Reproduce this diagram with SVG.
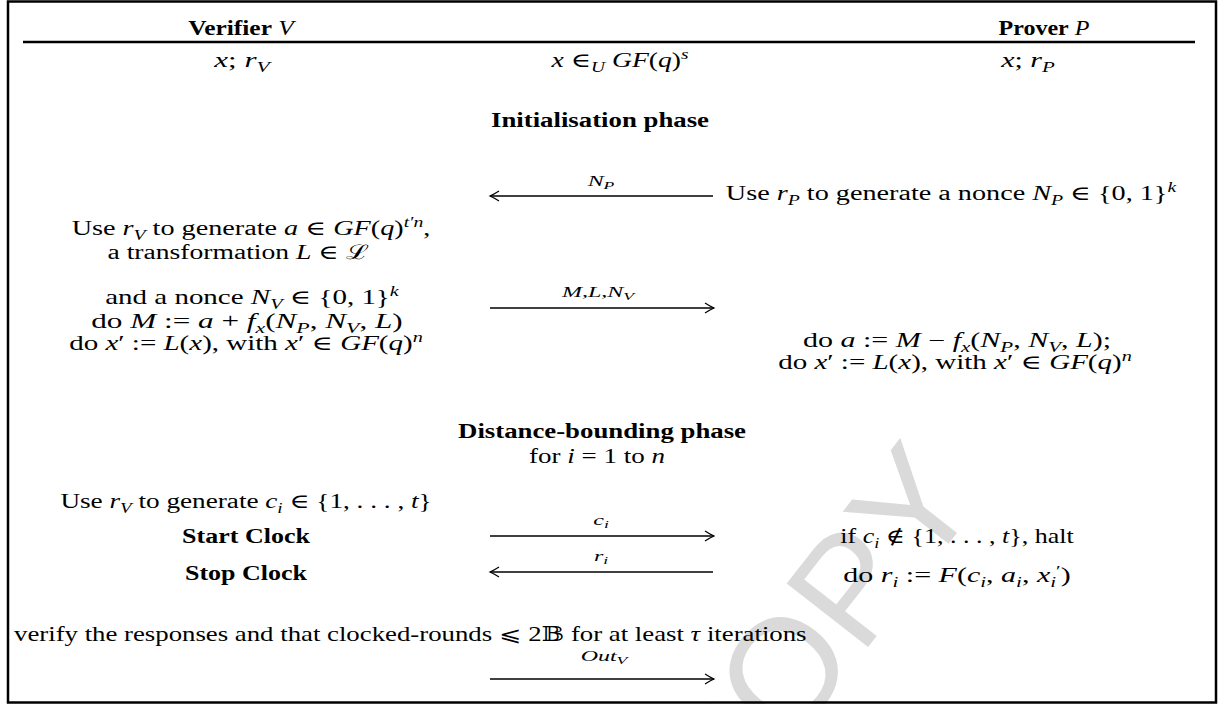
<svg xmlns="http://www.w3.org/2000/svg" width="1219" height="704" viewBox="0 0 1219 704">
<style>
text{font-family:"Liberation Serif","DejaVu Serif",serif;font-size:20px;fill:#000}
.b{font-weight:bold}
.i{font-style:italic}
.s{font-size:14px}
.lb{font-size:15px;font-style:italic}
.ln{font-size:15px}
.ls{font-size:11px;font-style:italic}
.wm{font-family:"Liberation Sans",sans-serif;font-size:150px;fill:#dadada}
.c{stroke:#000;stroke-width:1.3;fill:none}
</style>
<defs>
<marker id="ah" markerUnits="userSpaceOnUse" markerWidth="14" markerHeight="14" viewBox="-12 -7 14 14" refX="0" refY="0" orient="auto">
<path d="M-9,-5 Q-3.5,-1.5 0,0 Q-3.5,1.5 -9,5" fill="none" stroke="#000" stroke-width="1.2"/>
</marker>
</defs>
<rect width="1219" height="704" fill="#fff"/>
<g id="watermark"><text class="wm" transform="translate(722,834) rotate(-52)">COPY</text></g>
<g id="frame">
<rect x="8" y="1.5" width="1208" height="701" fill="none" stroke="#000" stroke-width="2.5"/>
<line x1="23" y1="42" x2="1195" y2="42" stroke="#000" stroke-width="2.5"/>
</g>
<g id="hdr-verifier" transform="translate(241,35) scale(1.27,1)"><text text-anchor="middle"><tspan class="b">Verifier</tspan> <tspan class="i">V</tspan></text></g>
<g id="hdr-prover" transform="translate(1044,35) scale(1.2,1)"><text text-anchor="middle"><tspan class="b">Prover</tspan> <tspan class="i">P</tspan></text></g>
<g id="v-input" transform="translate(242,67) scale(1.55,1)"><text text-anchor="middle"><tspan class="i">x</tspan>; <tspan class="i">r</tspan><tspan class="i s" dy="5">V</tspan></text></g>
<g id="shared-input" transform="translate(620,67) scale(1.38,1)"><text text-anchor="middle"><tspan class="i">x</tspan> ∈<tspan class="i s" dy="5">U</tspan><tspan dy="-5"> </tspan><tspan class="i">GF</tspan>(<tspan class="i">q</tspan>)<tspan class="i s" dy="-8">s</tspan></text></g>
<g id="p-input" transform="translate(1028,67) scale(1.5,1)"><text text-anchor="middle"><tspan class="i">x</tspan>; <tspan class="i">r</tspan><tspan class="i s" dy="5">P</tspan></text></g>
<g id="init-phase" transform="translate(600,127) scale(1.34,1)"><text text-anchor="middle" class="b">Initialisation phase</text></g>
<g id="p-nonce" transform="translate(951,200) scale(1.41,1)"><text text-anchor="middle">Use <tspan class="i">r</tspan><tspan class="i s" dy="5">P</tspan><tspan dy="-5"> to generate a nonce </tspan><tspan class="i">N</tspan><tspan class="i s" dy="5">P</tspan><tspan dy="-5"> ∈ {0, 1}</tspan><tspan class="i s" dy="-8">k</tspan></text></g>
<g id="v-gen" transform="translate(251,235) scale(1.41,1)"><text text-anchor="middle">Use <tspan class="i">r</tspan><tspan class="i s" dy="5">V</tspan><tspan dy="-5"> to generate </tspan><tspan class="i">a</tspan> ∈ <tspan class="i">GF</tspan>(<tspan class="i">q</tspan>)<tspan class="i s" dy="-8">t′n</tspan><tspan dy="8">,</tspan></text></g>
<g id="v-transform" transform="translate(238,259) scale(1.38,1)"><text text-anchor="middle">a transformation <tspan class="i">L</tspan> ∈ ℒ</text></g>
<g id="v-nonce" transform="translate(252,304) scale(1.45,1)"><text text-anchor="middle">and a nonce <tspan class="i">N</tspan><tspan class="i s" dy="5">V</tspan><tspan dy="-5"> ∈ {0, 1}</tspan><tspan class="i s" dy="-8">k</tspan></text></g>
<g id="v-M" transform="translate(247,328) scale(1.56,1)"><text text-anchor="middle">do <tspan class="i">M</tspan> := <tspan class="i">a</tspan> + <tspan class="i">f</tspan><tspan class="i s" dy="5">x</tspan><tspan dy="-5">(</tspan><tspan class="i">N</tspan><tspan class="i s" dy="5">P</tspan><tspan dy="-5">, </tspan><tspan class="i">N</tspan><tspan class="i s" dy="5">V</tspan><tspan dy="-5">, </tspan><tspan class="i">L</tspan>)</text></g>
<g id="v-xprime" transform="translate(246,350) scale(1.45,1)"><text text-anchor="middle">do <tspan class="i">x</tspan>′ := <tspan class="i">L</tspan>(<tspan class="i">x</tspan>), with <tspan class="i">x</tspan>′ ∈ <tspan class="i">GF</tspan>(<tspan class="i">q</tspan>)<tspan class="i s" dy="-8">n</tspan></text></g>
<g id="p-a" transform="translate(957,347) scale(1.5,1)"><text text-anchor="middle">do <tspan class="i">a</tspan> := <tspan class="i">M</tspan> − <tspan class="i">f</tspan><tspan class="i s" dy="5">x</tspan><tspan dy="-5">(</tspan><tspan class="i">N</tspan><tspan class="i s" dy="5">P</tspan><tspan dy="-5">, </tspan><tspan class="i">N</tspan><tspan class="i s" dy="5">V</tspan><tspan dy="-5">, </tspan><tspan class="i">L</tspan>);</text></g>
<g id="p-xprime" transform="translate(955,369) scale(1.45,1)"><text text-anchor="middle">do <tspan class="i">x</tspan>′ := <tspan class="i">L</tspan>(<tspan class="i">x</tspan>), with <tspan class="i">x</tspan>′ ∈ <tspan class="i">GF</tspan>(<tspan class="i">q</tspan>)<tspan class="i s" dy="-8">n</tspan></text></g>
<g id="db-phase" transform="translate(602,438) scale(1.34,1)"><text text-anchor="middle" class="b">Distance-bounding phase</text></g>
<g id="db-loop" transform="translate(597,463) scale(1.35,1)"><text text-anchor="middle">for <tspan class="i">i</tspan> = 1 to <tspan class="i">n</tspan></text></g>
<g id="v-ci" transform="translate(246,508) scale(1.36,1)"><text text-anchor="middle">Use <tspan class="i">r</tspan><tspan class="i s" dy="5">V</tspan><tspan dy="-5"> to generate </tspan><tspan class="i">c</tspan><tspan class="i s" dy="5">i</tspan><tspan dy="-5"> ∈ {1, . . . , </tspan><tspan class="i">t</tspan>}</text></g>
<g id="v-start" transform="translate(246,543) scale(1.3,1)"><text text-anchor="middle" class="b">Start Clock</text></g>
<g id="p-check" transform="translate(957,543) scale(1.3,1)"><text text-anchor="middle">if <tspan class="i">c</tspan><tspan class="i s" dy="5">i</tspan><tspan dy="-5"> ∉ {1, . . . , </tspan><tspan class="i">t</tspan>}, halt</text></g>
<g id="v-stop" transform="translate(246,580) scale(1.3,1)"><text text-anchor="middle" class="b">Stop Clock</text></g>
<g id="p-ri" transform="translate(957,582) scale(1.5,1)"><text text-anchor="middle">do <tspan class="i">r</tspan><tspan class="i s" dy="5">i</tspan><tspan dy="-5"> := </tspan><tspan class="i">F</tspan>(<tspan class="i">c</tspan><tspan class="i s" dy="5">i</tspan><tspan dy="-5">, </tspan><tspan class="i">a</tspan><tspan class="i s" dy="5">i</tspan><tspan dy="-5">, </tspan><tspan class="i">x</tspan><tspan class="i s" dy="5">i</tspan><tspan class="s" dy="-11">′</tspan><tspan dy="6">)</tspan></text></g>
<g id="v-verify" transform="translate(14,641) scale(1.34,1)"><text>verify the responses and that clocked-rounds ⩽ 2𝔹 for at least <tspan class="i">τ</tspan> iterations</text></g>
<g id="connectors">
<line class="c" x1="713" y1="196" x2="490" y2="196" marker-end="url(#ah)"/>
<line class="c" x1="490" y1="308" x2="714" y2="308" marker-end="url(#ah)"/>
<line class="c" x1="490" y1="536" x2="714" y2="536" marker-end="url(#ah)"/>
<line class="c" x1="713" y1="572" x2="490" y2="572" marker-end="url(#ah)"/>
<line class="c" x1="490" y1="679" x2="714" y2="679" marker-end="url(#ah)"/>
<g transform="translate(601,186) scale(1.6,1)"><text text-anchor="middle"><tspan class="lb">N</tspan><tspan class="ls" dy="3">P</tspan></text></g>
<g transform="translate(598,297) scale(1.6,1)"><text text-anchor="middle"><tspan class="lb">M</tspan><tspan class="ln">,</tspan><tspan class="lb">L</tspan><tspan class="ln">,</tspan><tspan class="lb">N</tspan><tspan class="ls" dy="3">V</tspan></text></g>
<g transform="translate(601,525) scale(1.6,1)"><text text-anchor="middle"><tspan class="lb">c</tspan><tspan class="ls" dy="3">i</tspan></text></g>
<g transform="translate(601,561) scale(1.6,1)"><text text-anchor="middle"><tspan class="lb">r</tspan><tspan class="ls" dy="3">i</tspan></text></g>
<g transform="translate(604,661) scale(1.6,1)"><text text-anchor="middle"><tspan class="lb">Out</tspan><tspan class="ls" dy="3">V</tspan></text></g>
</g>
</svg>
